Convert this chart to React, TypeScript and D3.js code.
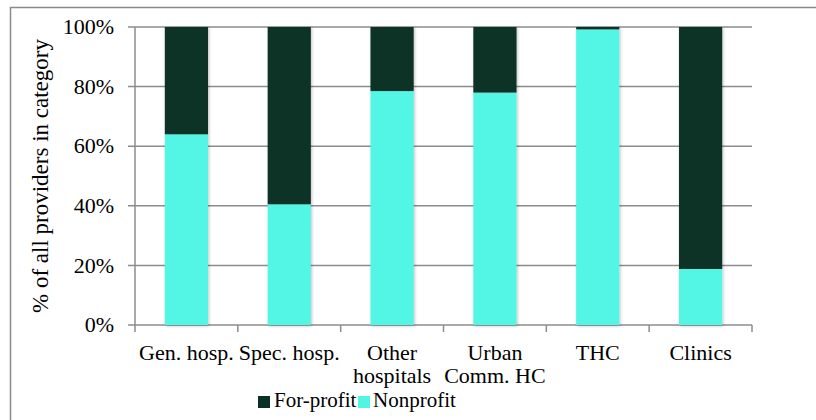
import React from 'react';
import * as d3 from 'd3';

const categories = [['Gen. hosp.'], ['Spec. hosp.'], ['Other', 'hospitals'], ['Urban', 'Comm. HC'], ['THC'], ['Clinics']];
const nonprofit = [64, 40.5, 78.5, 78, 99.2, 18.8];
const yTicks = [0, 20, 40, 60, 80, 100];

const W = 816;
const H = 420;
const FONT = '"Liberation Serif", "Times New Roman", serif';
const DARK = '#0b3126';
const CYAN = '#52f5e4';

const App: React.FC = () => {
  const x = d3.scaleBand<number>()
    .domain(d3.range(categories.length))
    .range([135, 752])
    .paddingInner(0.58)
    .paddingOuter(0.29);
  const y = d3.scaleLinear().domain([0, 100]).range([325, 27]);
  const step = x.step();
  const left = 135;

  return (
    <svg width={W} height={H} style={{ position: 'absolute', left: 0, top: 0, background: '#fff' }}>
      <defs>
        <filter id="shadow" x="-20%" y="-5%" width="140%" height="110%">
          <feDropShadow dx="1" dy="1" stdDeviation="1.5" floodColor="#000" floodOpacity="0.25" />
        </filter>
      </defs>
      {/* frame */}
      <path d={`M10.5,${H} V7.5 H${W}`} fill="none" stroke="#8a8a8a" strokeWidth={1.5} />

      {/* gridlines */}
      {yTicks.map(t => (
        <g key={t}>
          <line x1={left - 7} x2={752} y1={y(t)} y2={y(t)} stroke="#8c8c8c" strokeWidth={1.5} />
          <text x={114} y={y(t)} dy="0.33em" textAnchor="end" fontFamily={FONT} fontSize={22} fill="#000">
            {t}%
          </text>
        </g>
      ))}
      <line x1={left} x2={left} y1={y(100)} y2={y(0)} stroke="#8c8c8c" strokeWidth={1.5} />

      {/* x ticks */}
      {d3.range(categories.length + 1).map(i => (
        <line key={i} x1={left + i * step} x2={left + i * step} y1={y(0)} y2={y(0) + 7} stroke="#8c8c8c" strokeWidth={1.5} />
      ))}

      {/* bars */}
      {categories.map((c, i) => (
        <g key={i} filter="url(#shadow)">
          <rect x={x(i)} width={x.bandwidth()} y={y(nonprofit[i])} height={y(0) - y(nonprofit[i])} fill={CYAN} />
          <rect x={x(i)} width={x.bandwidth()} y={y(100)} height={y(nonprofit[i]) - y(100)} fill={DARK} />
        </g>
      ))}

      {/* category labels */}
      {categories.map((c, i) => (
        <text key={i} x={(x(i) as number) + x.bandwidth() / 2} y={360} textAnchor="middle" fontFamily={FONT} fontSize={22} fill="#000">
          {c.map((line, j) => (
            <tspan key={j} x={(x(i) as number) + x.bandwidth() / 2} dy={j === 0 ? 0 : 23}>{line}</tspan>
          ))}
        </text>
      ))}

      {/* axis title */}
      <text transform="translate(48,176) rotate(-90)" textAnchor="middle" fontFamily={FONT} fontSize={23} fill="#000">
        % of all providers in category
      </text>

      {/* legend */}
      <rect x={258} y={396} width={12} height={12} fill={DARK} />
      <text x={274} y={407} fontFamily={FONT} fontSize={21} fill="#000">For-profit</text>
      <rect x={358} y={396} width={12} height={12} fill={CYAN} />
      <text x={373} y={407} fontFamily={FONT} fontSize={21} fill="#000">Nonprofit</text>
    </svg>
  );
};

export default App;
